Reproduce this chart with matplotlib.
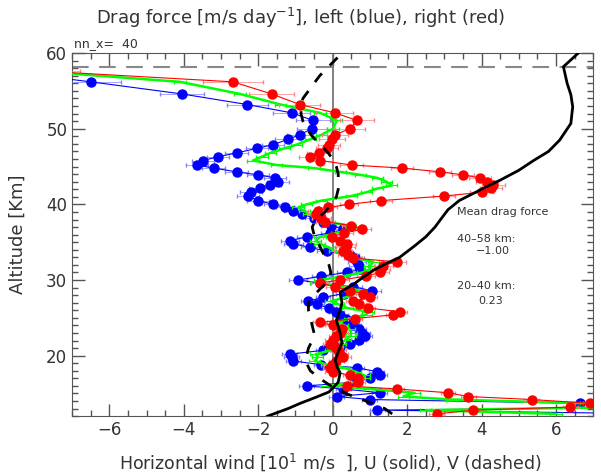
import matplotlib
matplotlib.use("Agg")
import matplotlib.pyplot as plt
from matplotlib.ticker import MultipleLocator

# altitude grid of the drag-force profiles [km]
alt = [57.6, 56.2, 54.6, 53.2, 52.1, 51.1, 50.0, 49.2, 48.6, 47.9,
       47.4, 46.8, 46.3, 45.8, 45.2, 44.8, 44.3, 43.9, 43.5, 43.0,
       42.5, 42.1, 41.6, 41.1, 40.5, 40.0, 39.6, 39.1, 38.7, 38.2,
       37.7, 37.2, 36.7, 36.2, 35.7, 35.2, 34.8, 34.3, 33.8, 33.3,
       32.9, 32.4, 31.9, 31.4, 31.0, 30.5, 30.0, 29.6, 29.1, 28.6,
       28.2, 27.7, 27.2, 26.8, 26.3, 25.8, 25.4, 24.9, 24.4, 24.0,
       23.5, 23.0, 22.6, 22.1, 21.6, 21.2, 20.7, 20.2, 19.8, 19.3,
       18.8, 18.4, 17.9, 17.4, 17.0, 16.5, 16.0, 15.6, 15.1, 14.6,
       14.2, 13.7, 13.2, 12.8, 12.3]

drag_left = [-8.8, -6.5, -4.05, -2.3, -1.1, -0.53, -0.56, -0.88, -1.2, -1.6,
             -2.04, -2.58, -3.08, -3.48, -3.65, -3.2, -2.58, -2.0, -1.55, -1.47,
             -1.68, -1.95, -2.2, -2.27, -2.0, -1.6, -1.28, -1.06, -0.82, -0.5,
             -0.25, -0.05, 0.28, -0.07, -0.7, -1.15, -1.06, -0.6, -0.16, 0.47,
             0.6, 0.65, 0.7, 0.74, 0.38, -0.3, -0.93, -0.34, 0.55, 1.05,
             0.3, -0.26, -0.66, -0.43, -0.1, 0.1, 0.2, 0.35, 0.5, 0.55,
             0.7, 0.8, 0.87, 0.7, 0.47, 0.2, -0.26, -1.15, -1.1, -1.06,
             -0.3, 0.65, 1.18, 1.27, 1.0, 0.6, -0.7, 0.28, 1.27, 0.11,
             1.0, 6.65, 9.5, 1.2, 9.0]

drag_right = [-7.7, -2.68, -1.64, -0.88, 0.06, 0.65, 0.47, 0.06, -0.02, -0.1,
              -0.16, -0.38, -0.6, -0.33, 0.51, 1.86, 2.89, 3.5, 3.96, 4.14,
              4.32, 4.25, 4.0, 3.0, 1.3, 0.44, -0.12, -0.4, -0.45, -0.3,
              -0.2, 0.5, 0.78, 0.3, -0.02, 0.2, 0.38, 0.35, 0.28, 0.4,
              0.55, 1.72, 1.36, 1.3, 1.27, 0.9, 0.2, -0.34, 0.06, 0.47,
              0.82, 1.0, 0.55, 0.7, 0.95, 1.81, 1.62, 0.6, -0.34, 0.0,
              0.24, 0.2, 0.1, 0.0, -0.07, 0.05, 0.15, 0.2, 0.28, 0.1,
              -0.02, -0.07, 0.0, 0.47, 0.68, 0.68, 0.38, 1.72, 3.1, 3.64,
              5.35, 6.92, 6.38, 3.78, 2.8]

drag_mean = [-7.9, -4.1, -2.49, -1.4, -0.34, 0.11, 0.01, -0.3, -0.6, -0.97,
             -1.3, -1.68, -1.9, -2.14, -1.5, -0.5, 0.2, 0.75, 1.2, 1.45,
             1.59, 1.2, 0.9, 0.5, -0.3, -0.7, -0.93, -0.75, -0.65, -0.4,
             -0.2, 0.47, 0.5, 0.1, -0.34, -0.45, -0.35, -0.1, 0.05, 0.45,
             0.6, 1.09, 1.0, 1.0, 0.8, 0.28, -0.35, -0.45, 0.3, 0.75,
             0.55, 0.35, -0.05, 0.15, 0.4, 0.95, 0.9, 0.45, 0.1, 0.27,
             0.45, 0.5, 0.48, 0.35, 0.2, 0.12, -0.05, -0.45, -0.4, -0.48,
             -0.15, 0.3, 0.6, 0.85, 0.85, 0.65, -0.15, 1.0, 2.2, 1.9,
             3.2, 6.8, 7.9, 2.5, 6.0]

drag_err = [0.9, 0.8, 0.6, 0.55, 0.5, 0.45, 0.4, 0.35, 0.35, 0.3,
            0.3, 0.3, 0.3, 0.3, 0.3, 0.3, 0.3, 0.3, 0.3, 0.3,
            0.3, 0.3, 0.3, 0.3, 0.3, 0.25, 0.25, 0.25, 0.25, 0.25,
            0.25, 0.25, 0.25, 0.25, 0.25, 0.25, 0.25, 0.25, 0.25, 0.25,
            0.25, 0.25, 0.25, 0.25, 0.25, 0.25, 0.25, 0.25, 0.25, 0.25,
            0.2, 0.2, 0.2, 0.2, 0.2, 0.2, 0.2, 0.2, 0.2, 0.2,
            0.2, 0.2, 0.2, 0.2, 0.2, 0.2, 0.2, 0.2, 0.2, 0.2,
            0.2, 0.2, 0.2, 0.2, 0.2, 0.2, 0.2, 0.2, 0.2, 0.2,
            0.2, 0.2, 0.2, 0.2, 0.2]

# horizontal wind [10 m/s]
u_alt = [12.0, 13.0, 13.7, 14.5, 15.2, 15.7, 16.5, 17.7, 18.5, 19.4,
         20.5, 21.7, 23.0, 24.7, 26.0, 27.0, 28.4, 29.4, 30.3, 31.3,
         32.2, 33.0, 34.5, 35.7, 37.0, 38.0, 39.3, 40.5, 41.5, 42.5,
         43.2, 44.5, 45.8, 47.0, 48.5, 50.7, 52.9, 54.5, 56.0, 58.2, 60.0]
u_wind = [-1.75, -1.2, -0.87, -0.45, -0.1, 0.0, 0.15, 0.2, 0.12, 0.07,
          0.15, 0.25, 0.2, 0.1, 0.2, 0.25, 0.2, 0.55, 0.8, 1.1,
          1.45, 1.8, 2.2, 2.5, 2.75, 2.9, 3.1, 3.4, 3.8, 4.2,
          4.5, 5.0, 5.4, 5.8, 6.1, 6.4, 6.45, 6.4, 6.3, 6.2, 6.6]

v_alt = [12.3, 13.0, 14.0, 15.0, 16.0, 17.0, 18.0, 19.0, 20.0, 21.0,
         22.0, 23.0, 24.0, 25.0, 26.0, 27.0, 28.0, 29.0, 30.0, 31.0,
         32.0, 33.0, 34.0, 35.0, 36.0, 37.0, 38.0, 39.0, 40.0, 41.0,
         42.0, 43.0, 44.0, 45.0, 46.0, 47.0, 48.0, 49.0, 50.0, 51.0,
         52.0, 53.0, 54.0, 55.0, 56.0, 57.0, 58.0, 59.0, 60.0]
v_wind = [1.6, 1.4, 0.9, 0.35, -0.05, -0.35, -0.6, -0.7, -0.7, -0.65,
          -0.55, -0.5, -0.55, -0.6, -0.65, -0.65, -0.5, -0.3, -0.1, -0.05,
          -0.1, -0.2, -0.3, -0.4, -0.5, -0.55, -0.45, -0.2, -0.05, 0.1,
          0.15, 0.15, 0.15, 0.1, 0.0, -0.15, -0.35, -0.55, -0.7, -0.8,
          -0.85, -0.85, -0.8, -0.65, -0.5, -0.35, -0.15, 0.05, 0.25]

top_level = 58.2
txt = "#333333"

fig = plt.figure(figsize=(6.01, 4.74), dpi=100)
ax = fig.add_axes([0.12, 0.122, 0.867, 0.766])

ax.errorbar(drag_left, alt, xerr=drag_err, fmt="-o", color="blue", ms=6.5,
            lw=0.8, elinewidth=0.5, capsize=1.5, ecolor="#8080ff", zorder=3)
ax.errorbar(drag_mean, alt, xerr=0.15, fmt="-", color="#00ff00", lw=1.8,
            elinewidth=0.8, capsize=1.5, zorder=4)
ax.errorbar(drag_right, alt, xerr=drag_err, fmt="-o", color="red", ms=6.5,
            lw=0.8, elinewidth=0.5, capsize=1.5, ecolor="#ff8080", zorder=5)

ax.axvline(0, color="#777777", lw=1.3, zorder=2)
ax.axhline(top_level, color="#888888", lw=1.5, ls=(0, (8, 5)), zorder=2)

ax.plot(u_wind, u_alt, color="black", lw=2, zorder=6)
ax.plot(v_wind, v_alt, color="black", lw=2, ls=(0, (4, 4)), zorder=6)

ax.set_xlim(-7, 7)
ax.set_ylim(12, 60)
ax.xaxis.set_major_locator(MultipleLocator(2))
ax.xaxis.set_minor_locator(MultipleLocator(0.5))
ax.yaxis.set_major_locator(MultipleLocator(10))
ax.yaxis.set_minor_locator(MultipleLocator(1))
ax.tick_params(which="both", direction="in", top=True, right=True,
               colors="#555555", labelcolor=txt, labelsize=12)
ax.tick_params(which="major", length=9, width=1)
ax.tick_params(which="minor", length=4, width=1)
for s in ax.spines.values():
    s.set_color("#555555")

ax.text(3.35, 38.6, "Mean drag force", fontsize=8, color=txt)
ax.text(3.35, 35.0, "40\u201358 km:", fontsize=8, color=txt)
ax.text(3.85, 33.4, "\u22121.00", fontsize=8, color=txt)
ax.text(3.35, 28.8, "20\u201340 km:", fontsize=8, color=txt)
ax.text(3.9, 26.8, "0.23", fontsize=8, color=txt)

fig.text(0.5, 0.962, "Drag force [m/s day$^{-1}$], left (blue), right (red)",
         ha="center", va="center", fontsize=13, color=txt)
fig.text(0.123, 0.894, "nn_x=  40", ha="left", va="bottom", fontsize=9, color=txt)
fig.text(0.03, 0.505, "Altitude [Km]", rotation=90, ha="center", va="center",
         fontsize=13, color=txt)
fig.text(0.55, 0.025, "Horizontal wind [10$^{1}$ m/s  ], U (solid), V (dashed)",
         ha="center", va="center", fontsize=12.5, color=txt)

fig.savefig("out.png", dpi=100)
